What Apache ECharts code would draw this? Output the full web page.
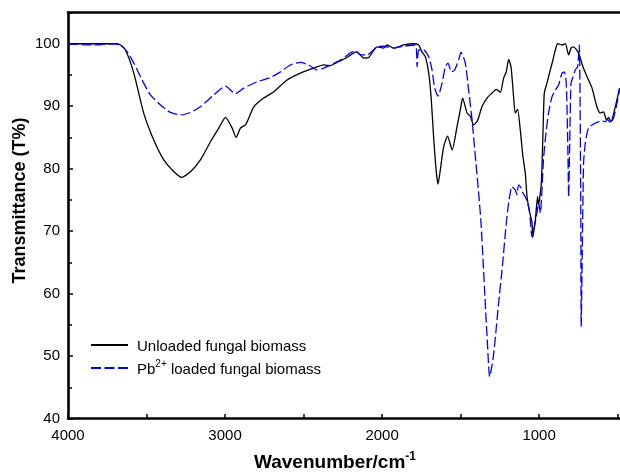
<!DOCTYPE html>
<html>
<head>
<meta charset="utf-8">
<script src="https://cdn.jsdelivr.net/npm/echarts@6/dist/echarts.min.js"></script>
<style>
  html, body { margin: 0; padding: 0; background: #fff; }
  #chart { width: 620px; height: 474px; }
</style>
</head>
<body>
<div id="chart"></div>
<script>
// FTIR spectra: transmittance (%) against wavenumber (cm-1)
const unloadedWavenumber = [
  4000, 3698, 3666, 3634, 3581, 3518, 3454, 3390, 3337, 3277,
  3220, 3157, 3093, 3040, 2997, 2955, 2929, 2902, 2870, 2849,
  2817, 2754, 2690, 2605, 2520, 2435, 2372, 2329, 2287, 2223,
  2164, 2138, 2117, 2085, 2032, 1990, 1968, 1926, 1863, 1799,
  1767, 1746, 1724, 1703, 1688, 1672, 1656, 1644, 1629, 1608,
  1583, 1554, 1523, 1502, 1487, 1459, 1438, 1417, 1392, 1364,
  1332, 1300, 1273, 1247, 1226, 1209, 1194, 1179, 1166, 1152,
  1137, 1120, 1103, 1088, 1077, 1061, 1045, 1041, 1024, 1010,
  1004, 986, 975, 967, 950, 929, 912, 897, 882, 854,
  833, 812, 797, 781, 749, 721, 691, 663, 632, 611,
  589, 572, 558, 543, 515, 488
];
const unloadedTransmittance = [
  100.0, 100.0, 99.8, 99.0, 95.3, 88.9, 84.6, 81.4, 79.8, 78.6,
  79.5, 81.4, 84.3, 86.5, 88.2, 86.5, 85.0, 86.5, 87.0, 88.1,
  89.9, 91.3, 92.3, 94.2, 95.3, 96.1, 96.6, 96.5, 97.0, 97.8,
  98.7, 98.2, 97.7, 97.8, 99.5, 99.3, 99.8, 99.3, 99.8, 100.0,
  99.8, 98.7, 97.9, 95.3, 91.5, 85.1, 79.8, 77.5, 79.8, 83.5,
  85.2, 83.0, 86.7, 89.4, 91.3, 88.9, 88.4, 87.0, 87.7, 89.9,
  91.3, 92.1, 92.7, 92.2, 94.5, 95.5, 97.5, 96.3, 92.6, 88.9,
  89.5, 86.2, 81.9, 79.3, 75.5, 73.1, 71.3, 69.0, 71.8, 75.5,
  74.2, 77.7, 86.2, 92.1, 93.7, 95.8, 97.4, 99.0, 100.0, 99.8,
  100.0, 98.2, 99.3, 99.5, 98.5, 96.3, 94.5, 92.9, 89.9, 88.9,
  89.1, 87.8, 88.2, 87.5, 89.9, 92.9
];

const loadedWavenumber = [
  4000, 3844, 3698, 3666, 3623, 3581, 3528, 3475, 3411, 3348,
  3277, 3220, 3157, 3072, 2997, 2934, 2881, 2796, 2711, 2647,
  2584, 2520, 2467, 2414, 2372, 2329, 2265, 2202, 2170, 2138,
  2096, 2032, 1990, 1926, 1863, 1788, 1777, 1767, 1735, 1703,
  1682, 1665, 1644, 1618, 1597, 1580, 1559, 1538, 1513, 1497,
  1470, 1449, 1427, 1406, 1385, 1370, 1357, 1343, 1328, 1315,
  1294, 1274, 1258, 1236, 1209, 1194, 1173, 1152, 1141, 1131,
  1115, 1103, 1088, 1073, 1061, 1045, 1014, 1003, 992, 982,
  971, 954, 940, 918, 897, 876, 854, 840, 827, 817,
  812, 806, 797, 784, 770, 755, 744, 735, 732, 725,
  717, 706, 695, 685, 663, 632, 600, 579, 564, 547,
  526, 504, 485
];
const loadedTransmittance = [
  100.0, 99.8, 100.0, 99.8, 98.7, 96.9, 94.2, 91.8, 90.2, 89.0,
  88.6, 89.0, 89.9, 91.8, 93.2, 92.0, 92.9, 93.9, 94.6, 95.5,
  96.6, 97.0, 96.6, 95.8, 96.1, 96.6, 97.4, 98.5, 98.9, 98.2,
  98.2, 99.5, 99.6, 99.3, 99.6, 99.8, 96.3, 99.0, 99.0, 97.9,
  95.8, 92.9, 91.6, 93.7, 96.3, 96.9, 95.5, 95.8, 97.4, 98.6,
  96.9, 92.6, 87.8, 81.9, 76.1, 71.3, 65.4, 58.5, 51.5, 46.7,
  49.4, 54.2, 58.5, 63.8, 71.3, 74.5, 77.1, 76.6, 75.8, 77.4,
  76.9, 76.1, 75.5, 74.5, 73.1, 69.1, 72.9, 74.5, 72.9, 76.6,
  81.9, 86.2, 88.9, 91.5, 92.6, 93.4, 95.3, 95.5, 93.7, 83.0,
  75.5, 83.0, 93.7, 94.7, 95.8, 96.3, 99.8, 75.0, 54.7, 67.0,
  80.9, 84.1, 85.7, 86.5, 87.0, 87.4, 87.7, 87.5, 87.9, 87.3,
  88.1, 90.5, 92.9
];

const seriesNames = ['Unloaded fungal biomass', 'Pb2+ loaded fungal biomass'];
const yTicks = [40, 50, 60, 70, 80, 90, 100];
const xTicks = [1000, 2000, 3000, 4000];

const pairs = (xs, ys) => xs.map((x, i) => [x, ys[i]]);

const FONT = "Arial, 'Liberation Sans', Helvetica, sans-serif";
const chart = echarts.init(document.getElementById('chart'), null, { renderer: 'canvas' });

const axisLineStyle = { color: '#000', width: 2.6 };

// wavenumber range shown; ticks fall every 500 cm-1, labels every 1000 cm-1
const X_MIN = 485;
const X_MAX = 4000;

const option = {
  animation: false,
  backgroundColor: '#fff',
  textStyle: { fontFamily: FONT, color: '#000' },
  grid: { left: 68, right: 0, top: 12.5, bottom: 55.5, outerBoundsMode: 'none', containLabel: false },
  xAxis: [
    {
      type: 'value',
      position: 'bottom',
      inverse: true,
      min: X_MIN,
      max: X_MAX,
      splitNumber: 7,
      axisLine: { show: true, onZero: false, lineStyle: axisLineStyle },
      axisTick: { show: true, inside: true, length: 4.5, lineStyle: { color: '#000', width: 1.5 } },
      splitLine: { show: false },
      axisLabel: {
        margin: 10,
        fontSize: 15,
        color: '#000',
        fontFamily: FONT,
        showMinLabel: false,
        formatter: v => (xTicks.includes(v) ? String(v) : '')
      },
      name: '{t|Wavenumber/cm}{s|-1}',
      nameLocation: 'middle',
      nameGap: 32,
      nameMoveOverlap: false,
      nameTextStyle: {
        padding: [0, 18, 0, 0],
        rich: {
          t: { fontSize: 19, fontWeight: 'bold', fontFamily: FONT, color: '#000', lineHeight: 22, verticalAlign: 'bottom' },
          s: { fontSize: 12, fontWeight: 'bold', fontFamily: FONT, color: '#000', lineHeight: 22, verticalAlign: 'top' }
        }
      }
    },
    {
      type: 'value',
      position: 'top',
      inverse: true,
      min: X_MIN,
      max: X_MAX,
      splitNumber: 7,
      axisLine: { show: true, onZero: false, lineStyle: axisLineStyle },
      axisTick: { show: false },
      axisLabel: { show: false },
      splitLine: { show: false }
    }
  ],
  yAxis: {
    type: 'value',
    min: 40,
    max: 105,
    interval: 10,
    axisLine: { show: true, onZero: false, lineStyle: axisLineStyle },
    axisTick: { show: true, inside: true, length: 5, lineStyle: { color: '#000', width: 1.5 } },
    minorTick: { show: true, splitNumber: 2, length: 4, lineStyle: { color: '#000', width: 1.5 } },
    splitLine: { show: false },
    axisLabel: {
      margin: 8,
      fontSize: 15,
      color: '#000',
      fontFamily: FONT,
      showMaxLabel: false,
      formatter: v => (yTicks.includes(v) ? String(v) : '')
    },
    name: 'Transmittance (T%)',
    nameLocation: 'middle',
    nameGap: 39,
    nameMoveOverlap: false,
    nameTextStyle: {
      fontSize: 18,
      fontWeight: 'bold',
      fontFamily: FONT,
      color: '#000',
      padding: [0, 0, 0, 30]
    }
  },
  legend: {
    orient: 'vertical',
    left: 90,
    top: 339,
    padding: 0,
    itemWidth: 37,
    itemHeight: 14,
    itemGap: 5,
    data: seriesNames,
    itemStyle: { opacity: 0 },
    formatter: name => (name === seriesNames[1]
      ? '{a|Pb}{s|2+}{a| loaded fungal biomass}'
      : '{a|' + name + '}'),
    textStyle: {
      padding: [0, 0, 0, 4],
      rich: {
        a: { fontSize: 15, fontFamily: FONT, color: '#000', lineHeight: 18, verticalAlign: 'bottom' },
        s: { fontSize: 10, fontFamily: FONT, color: '#000', lineHeight: 18, verticalAlign: 'top' }
      }
    }
  },
  series: [
    {
      name: seriesNames[0],
      type: 'line',
      xAxisIndex: 0,
      symbol: 'none',
      smooth: 0.2,
      data: pairs(unloadedWavenumber, unloadedTransmittance),
      lineStyle: { color: '#000', width: 1.3, type: 'solid' },
      itemStyle: { color: '#000' },
      z: 2
    },
    {
      name: seriesNames[1],
      type: 'line',
      xAxisIndex: 0,
      symbol: 'none',
      smooth: 0.2,
      data: pairs(loadedWavenumber, loadedTransmittance),
      lineStyle: { color: '#0000ff', width: 1.3, type: [10, 3.5] },
      itemStyle: { color: '#0000ff' },
      z: 3
    }
  ]
};

chart.setOption(option);
</script>
</body>
</html>
